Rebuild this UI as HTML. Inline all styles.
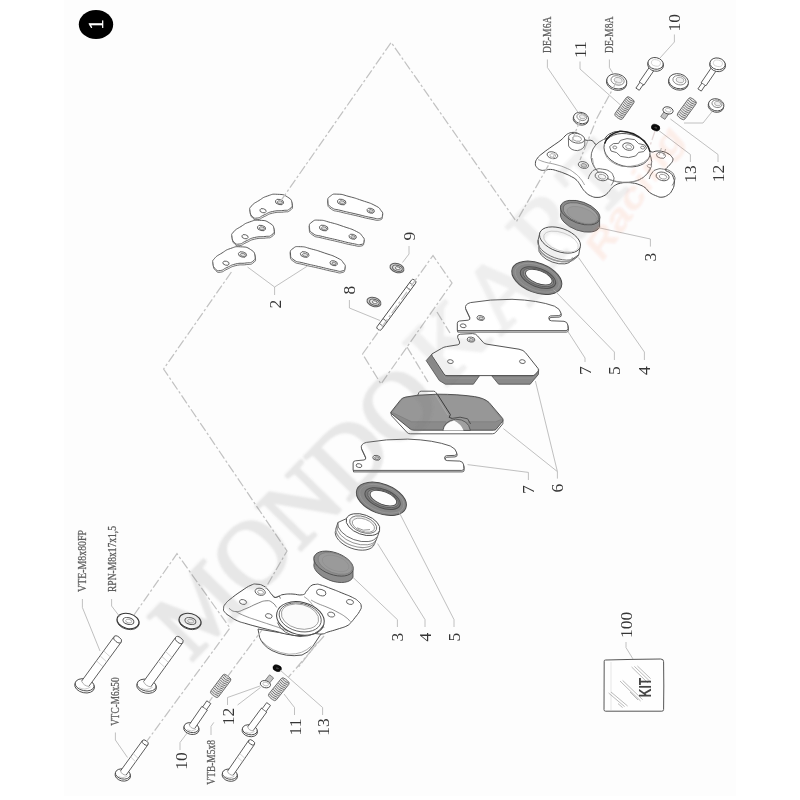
<!DOCTYPE html>
<html><head><meta charset="utf-8"><title>Brake caliper exploded view</title>
<style>html,body{margin:0;padding:0;background:#fff;}body{width:800px;height:800px;overflow:hidden;font-family:"Liberation Serif",serif;}svg{display:block;}</style></head><body>
<svg width="800" height="800" viewBox="0 0 800 800">
<defs><filter id="soft" x="-5%" y="-5%" width="110%" height="110%"><feGaussianBlur stdDeviation="0.5"/></filter><filter id="soft2" x="-5%" y="-5%" width="110%" height="110%"><feGaussianBlur stdDeviation="0.9"/></filter></defs>
<rect x="0" y="0" width="800" height="800" fill="#ffffff"/>
<rect x="64" y="0" width="672" height="796" fill="#fdfdfd"/>
<g id="drawing" filter="url(#soft)">
<ellipse cx="96" cy="24.5" rx="17.2" ry="14.6" fill="#000"/>
<text transform="translate(103.0,24.5) rotate(-90)" text-anchor="middle" font-family="Liberation Serif" font-size="20" font-weight="normal" fill="#fff" opacity="1" stroke="#fff" stroke-width="0.5">1</text>
<path d="M250.3,212.6 C250.0,209.4 249.1,210.8 251.8,207.6 C254.5,204.4 254.5,205.1 259.3,202.1 C264.1,199.1 262.2,199.5 267.8,197.6 C273.4,195.7 271.8,195.6 277.8,195.9 C283.8,196.2 283.4,195.8 287.8,198.6 C292.2,201.4 291.7,201.5 292.3,205.1 C292.9,208.7 292.5,208.5 289.8,210.6 C287.1,212.7 288.4,211.3 283.3,212.1 C278.2,212.8 278.5,211.8 272.8,213.1 C267.1,214.4 268.8,214.7 264.3,216.6 C259.8,218.5 261.2,219.2 257.8,219.6 C254.4,220.0 255.1,220.2 252.8,218.1 C250.6,216.0 250.6,215.8 250.3,212.6 Z" fill="#fff" stroke="#4a4a4a" stroke-width="0.8" stroke-linejoin="round" />
<path d="M250.0,211.0 C249.7,207.8 248.8,209.2 251.5,206.0 C254.2,202.8 254.2,203.5 259.0,200.5 C263.8,197.5 261.9,197.9 267.5,196.0 C273.1,194.1 271.5,194.0 277.5,194.3 C283.5,194.6 283.1,194.2 287.5,197.0 C291.9,199.8 291.4,199.9 292.0,203.5 C292.6,207.1 292.2,206.9 289.5,209.0 C286.8,211.1 288.1,209.8 283.0,210.5 C277.9,211.2 278.2,210.2 272.5,211.5 C266.8,212.8 268.5,213.1 264.0,215.0 C259.5,216.9 260.9,217.6 257.5,218.0 C254.1,218.4 254.8,218.6 252.5,216.5 C250.2,214.4 250.3,214.2 250.0,211.0 Z" fill="#fff" stroke="#4a4a4a" stroke-width="0.9" stroke-linejoin="round" />
<ellipse cx="279.5" cy="202.0" rx="4.2" ry="2.6" transform="rotate(15 279.5 202.0)" fill="#fff" stroke="#4a4a4a" stroke-width="0.8" />
<ellipse cx="279.9" cy="202.4" rx="2.6" ry="1.5" transform="rotate(15 279.9 202.4)" fill="#ddd" stroke="#4a4a4a" stroke-width="0.6" />
<ellipse cx="263.0" cy="210.7" rx="3.2" ry="2.0" transform="rotate(15 263.0 210.7)" fill="#fff" stroke="#4a4a4a" stroke-width="0.8" />
<path d="M327.8,203.1 C327.5,199.7 327.3,199.8 330.3,197.6 C333.3,195.4 332.2,195.6 337.8,195.8 C343.4,195.9 341.6,196.2 348.8,198.1 C356.0,200.0 354.0,199.4 361.8,202.1 C369.6,204.8 369.1,204.1 374.8,207.1 C380.5,210.1 378.6,209.2 380.8,212.1 C383.1,214.9 382.8,214.2 382.3,216.6 C381.9,219.0 382.8,219.3 379.3,220.1 C375.9,220.8 377.9,220.4 370.8,219.1 C363.8,217.8 364.8,217.7 355.8,215.6 C346.8,213.5 348.2,214.0 340.8,212.1 C333.4,210.2 335.2,211.8 331.3,209.1 C327.4,206.4 328.1,206.5 327.8,203.1 Z" fill="#fff" stroke="#4a4a4a" stroke-width="0.8" stroke-linejoin="round" />
<path d="M328.0,201.5 C327.7,198.1 327.5,198.2 330.5,196.0 C333.5,193.8 332.4,194.0 338.0,194.2 C343.6,194.3 341.8,194.6 349.0,196.5 C356.2,198.4 354.2,197.8 362.0,200.5 C369.8,203.2 369.3,202.5 375.0,205.5 C380.7,208.5 378.8,207.7 381.0,210.5 C383.2,213.3 382.9,212.6 382.5,215.0 C382.1,217.4 382.9,217.8 379.5,218.5 C376.1,219.2 378.1,218.8 371.0,217.5 C363.9,216.2 365.0,216.1 356.0,214.0 C347.0,211.9 348.4,212.4 341.0,210.5 C333.6,208.6 335.4,210.2 331.5,207.5 C327.6,204.8 328.3,204.9 328.0,201.5 Z" fill="#fff" stroke="#4a4a4a" stroke-width="0.9" stroke-linejoin="round" />
<ellipse cx="341.7" cy="202.0" rx="4.4" ry="2.7" transform="rotate(15 341.7 202.0)" fill="#fff" stroke="#4a4a4a" stroke-width="0.8" />
<ellipse cx="342.1" cy="202.4" rx="2.7" ry="1.5" transform="rotate(15 342.1 202.4)" fill="#ddd" stroke="#4a4a4a" stroke-width="0.6" />
<ellipse cx="370.7" cy="210.7" rx="3.8" ry="2.4" transform="rotate(15 370.7 210.7)" fill="#fff" stroke="#4a4a4a" stroke-width="0.8" />
<ellipse cx="371.0" cy="211.0" rx="2.2" ry="1.3" transform="rotate(15 371.0 211.0)" fill="#ddd" stroke="#4a4a4a" stroke-width="0.6" />
<path d="M232.3,238.6 C232.0,235.4 231.1,236.8 233.8,233.6 C236.5,230.4 236.5,231.1 241.3,228.1 C246.1,225.1 244.2,225.5 249.8,223.6 C255.4,221.7 253.8,221.6 259.8,221.9 C265.8,222.2 265.4,221.8 269.8,224.6 C274.2,227.4 273.7,227.5 274.3,231.1 C274.9,234.7 274.5,234.5 271.8,236.6 C269.1,238.7 270.4,237.3 265.3,238.1 C260.2,238.8 260.5,237.8 254.8,239.1 C249.1,240.4 250.8,240.7 246.3,242.6 C241.8,244.5 243.2,245.2 239.8,245.6 C236.4,246.0 237.1,246.2 234.8,244.1 C232.6,242.0 232.6,241.8 232.3,238.6 Z" fill="#fff" stroke="#4a4a4a" stroke-width="0.8" stroke-linejoin="round" />
<path d="M232.0,237.0 C231.7,233.8 230.8,235.2 233.5,232.0 C236.2,228.8 236.2,229.5 241.0,226.5 C245.8,223.5 243.9,223.9 249.5,222.0 C255.1,220.1 253.5,220.0 259.5,220.3 C265.5,220.6 265.1,220.2 269.5,223.0 C273.9,225.8 273.4,225.9 274.0,229.5 C274.6,233.1 274.2,232.9 271.5,235.0 C268.8,237.1 270.1,235.8 265.0,236.5 C259.9,237.2 260.2,236.2 254.5,237.5 C248.8,238.8 250.5,239.1 246.0,241.0 C241.5,242.9 242.9,243.6 239.5,244.0 C236.1,244.4 236.8,244.6 234.5,242.5 C232.2,240.4 232.3,240.2 232.0,237.0 Z" fill="#fff" stroke="#4a4a4a" stroke-width="0.9" stroke-linejoin="round" />
<ellipse cx="261.5" cy="228.0" rx="4.2" ry="2.6" transform="rotate(15 261.5 228.0)" fill="#fff" stroke="#4a4a4a" stroke-width="0.8" />
<ellipse cx="261.9" cy="228.4" rx="2.6" ry="1.5" transform="rotate(15 261.9 228.4)" fill="#ddd" stroke="#4a4a4a" stroke-width="0.6" />
<ellipse cx="245.0" cy="236.7" rx="3.2" ry="2.0" transform="rotate(15 245.0 236.7)" fill="#fff" stroke="#4a4a4a" stroke-width="0.8" />
<path d="M309.3,229.1 C309.0,225.7 308.8,225.8 311.8,223.6 C314.8,221.4 313.8,221.6 319.3,221.8 C324.9,221.9 323.1,222.2 330.3,224.1 C337.5,226.0 335.5,225.4 343.3,228.1 C351.1,230.8 350.6,230.1 356.3,233.1 C362.0,236.1 360.1,235.2 362.3,238.1 C364.6,240.9 364.2,240.2 363.8,242.6 C363.4,245.0 364.2,245.3 360.8,246.1 C357.4,246.8 359.4,246.4 352.3,245.1 C345.2,243.8 346.3,243.7 337.3,241.6 C328.3,239.5 329.7,240.0 322.3,238.1 C314.9,236.2 316.7,237.8 312.8,235.1 C308.9,232.4 309.6,232.5 309.3,229.1 Z" fill="#fff" stroke="#4a4a4a" stroke-width="0.8" stroke-linejoin="round" />
<path d="M309.5,227.5 C309.2,224.1 309.0,224.2 312.0,222.0 C315.0,219.8 313.9,220.0 319.5,220.2 C325.1,220.3 323.3,220.6 330.5,222.5 C337.7,224.4 335.7,223.8 343.5,226.5 C351.3,229.2 350.8,228.5 356.5,231.5 C362.2,234.5 360.2,233.7 362.5,236.5 C364.8,239.3 364.4,238.6 364.0,241.0 C363.6,243.4 364.4,243.8 361.0,244.5 C357.6,245.2 359.6,244.8 352.5,243.5 C345.4,242.2 346.5,242.1 337.5,240.0 C328.5,237.9 329.9,238.4 322.5,236.5 C315.1,234.6 316.9,236.2 313.0,233.5 C309.1,230.8 309.8,230.9 309.5,227.5 Z" fill="#fff" stroke="#4a4a4a" stroke-width="0.9" stroke-linejoin="round" />
<ellipse cx="323.7" cy="228.0" rx="4.4" ry="2.7" transform="rotate(15 323.7 228.0)" fill="#fff" stroke="#4a4a4a" stroke-width="0.8" />
<ellipse cx="324.1" cy="228.4" rx="2.7" ry="1.5" transform="rotate(15 324.1 228.4)" fill="#ddd" stroke="#4a4a4a" stroke-width="0.6" />
<ellipse cx="352.7" cy="236.7" rx="3.8" ry="2.4" transform="rotate(15 352.7 236.7)" fill="#fff" stroke="#4a4a4a" stroke-width="0.8" />
<ellipse cx="353.0" cy="237.0" rx="2.2" ry="1.3" transform="rotate(15 353.0 237.0)" fill="#ddd" stroke="#4a4a4a" stroke-width="0.6" />
<path d="M213.3,265.1 C213.0,262.0 212.1,263.3 214.8,260.1 C217.5,256.9 217.5,257.6 222.3,254.6 C227.1,251.6 225.2,252.0 230.8,250.1 C236.4,248.2 234.8,248.1 240.8,248.4 C246.8,248.7 246.5,248.3 250.8,251.1 C255.2,253.9 254.7,254.0 255.3,257.6 C255.9,261.2 255.5,261.0 252.8,263.1 C250.1,265.2 251.4,263.9 246.3,264.6 C241.2,265.4 241.5,264.2 235.8,265.6 C230.1,267.0 231.8,267.2 227.3,269.1 C222.8,271.1 224.2,271.7 220.8,272.1 C217.4,272.6 218.1,272.7 215.8,270.6 C213.6,268.5 213.6,268.2 213.3,265.1 Z" fill="#fff" stroke="#4a4a4a" stroke-width="0.8" stroke-linejoin="round" />
<path d="M213.0,263.5 C212.7,260.4 211.8,261.6 214.5,258.5 C217.2,255.3 217.2,256.0 222.0,253.0 C226.8,250.0 224.9,250.4 230.5,248.5 C236.1,246.6 234.5,246.5 240.5,246.8 C246.5,247.1 246.2,246.7 250.5,249.5 C254.8,252.3 254.4,252.4 255.0,256.0 C255.6,259.6 255.2,259.4 252.5,261.5 C249.8,263.6 251.1,262.2 246.0,263.0 C240.9,263.8 241.2,262.6 235.5,264.0 C229.8,265.4 231.5,265.6 227.0,267.5 C222.5,269.4 223.9,270.1 220.5,270.5 C217.1,270.9 217.8,271.1 215.5,269.0 C213.2,266.9 213.3,266.6 213.0,263.5 Z" fill="#fff" stroke="#4a4a4a" stroke-width="0.9" stroke-linejoin="round" />
<ellipse cx="242.5" cy="254.5" rx="4.2" ry="2.6" transform="rotate(15 242.5 254.5)" fill="#fff" stroke="#4a4a4a" stroke-width="0.8" />
<ellipse cx="242.9" cy="254.9" rx="2.6" ry="1.5" transform="rotate(15 242.9 254.9)" fill="#ddd" stroke="#4a4a4a" stroke-width="0.6" />
<ellipse cx="226.0" cy="263.2" rx="3.2" ry="2.0" transform="rotate(15 226.0 263.2)" fill="#fff" stroke="#4a4a4a" stroke-width="0.8" />
<path d="M290.3,255.6 C290.0,252.1 289.8,252.3 292.8,250.1 C295.8,247.9 294.8,248.1 300.3,248.3 C305.9,248.4 304.1,248.7 311.3,250.6 C318.5,252.5 316.5,251.9 324.3,254.6 C332.1,257.3 331.6,256.6 337.3,259.6 C343.0,262.6 341.1,261.8 343.3,264.6 C345.6,267.5 345.2,266.7 344.8,269.1 C344.4,271.5 345.2,271.9 341.8,272.6 C338.4,273.4 340.4,273.0 333.3,271.6 C326.2,270.2 327.3,270.2 318.3,268.1 C309.3,266.0 310.7,266.6 303.3,264.6 C295.9,262.7 297.7,264.3 293.8,261.6 C289.9,258.9 290.6,259.1 290.3,255.6 Z" fill="#fff" stroke="#4a4a4a" stroke-width="0.8" stroke-linejoin="round" />
<path d="M290.5,254.0 C290.2,250.6 290.0,250.7 293.0,248.5 C296.0,246.3 294.9,246.5 300.5,246.7 C306.1,246.8 304.3,247.1 311.5,249.0 C318.7,250.9 316.7,250.3 324.5,253.0 C332.3,255.7 331.8,255.0 337.5,258.0 C343.2,261.0 341.2,260.1 343.5,263.0 C345.8,265.9 345.4,265.1 345.0,267.5 C344.6,269.9 345.4,270.2 342.0,271.0 C338.6,271.8 340.6,271.4 333.5,270.0 C326.4,268.6 327.5,268.6 318.5,266.5 C309.5,264.4 310.9,264.9 303.5,263.0 C296.1,261.1 297.9,262.7 294.0,260.0 C290.1,257.3 290.8,257.4 290.5,254.0 Z" fill="#fff" stroke="#4a4a4a" stroke-width="0.9" stroke-linejoin="round" />
<ellipse cx="304.7" cy="254.5" rx="4.4" ry="2.7" transform="rotate(15 304.7 254.5)" fill="#fff" stroke="#4a4a4a" stroke-width="0.8" />
<ellipse cx="305.1" cy="254.9" rx="2.7" ry="1.5" transform="rotate(15 305.1 254.9)" fill="#ddd" stroke="#4a4a4a" stroke-width="0.6" />
<ellipse cx="333.7" cy="263.2" rx="3.8" ry="2.4" transform="rotate(15 333.7 263.2)" fill="#fff" stroke="#4a4a4a" stroke-width="0.8" />
<ellipse cx="334.0" cy="263.5" rx="2.2" ry="1.3" transform="rotate(15 334.0 263.5)" fill="#ddd" stroke="#4a4a4a" stroke-width="0.6" />
<ellipse cx="374.0" cy="302.0" rx="7.2" ry="4.4" transform="rotate(18 374.0 302.0)" fill="#d0d0d0" stroke="#5c5c5c" stroke-width="1.0" />
<ellipse cx="374.4" cy="302.2" rx="5.0" ry="2.9" transform="rotate(18 374.4 302.2)" fill="#e6e6e6" stroke="#666" stroke-width="1.0" />
<ellipse cx="374.8" cy="302.3" rx="2.6" ry="1.4" transform="rotate(18 374.8 302.3)" fill="#fafafa" stroke="#666" stroke-width="0.9" />
<ellipse cx="397.0" cy="268.0" rx="7.2" ry="4.4" transform="rotate(18 397.0 268.0)" fill="#d0d0d0" stroke="#5c5c5c" stroke-width="1.0" />
<ellipse cx="397.4" cy="268.2" rx="5.0" ry="2.9" transform="rotate(18 397.4 268.2)" fill="#e6e6e6" stroke="#666" stroke-width="1.0" />
<ellipse cx="397.8" cy="268.3" rx="2.6" ry="1.4" transform="rotate(18 397.8 268.3)" fill="#fafafa" stroke="#666" stroke-width="0.9" />
<rect x="0" y="-2.60" width="61.28" height="5.20" rx="1.8" ry="1.8" transform="translate(378.2,329.5) rotate(-53.56)" fill="#fff" stroke="#4a4a4a" stroke-width="0.9"/>
<path d="M379.4,323.5 L383.6,326.6" fill="none" stroke="#4a4a4a" stroke-width="0.8" />
<path d="M383.0,318.6 L387.2,321.7" fill="none" stroke="#4a4a4a" stroke-width="0.8" />
<path d="M406.3,287.0 L410.5,290.1" fill="none" stroke="#4a4a4a" stroke-width="0.8" />
<path d="M409.6,282.6 L413.8,285.7" fill="none" stroke="#4a4a4a" stroke-width="0.8" />
<g transform="translate(0,0)">
<path d="M457.3,330.6 L457.3,323.2 Q457.4,321.2 459.6,321 L468.2,320.2 Q470.6,319.8 469.8,317.4 L465.6,308.4 Q464.6,304.2 470.5,302.6 Q490,299.2 512,299.3 Q538,300.2 554.5,306.2 Q560.4,309 561,313.2 Q561.2,315.4 558.8,315.6 L550.6,315.9 Q548.6,316.3 548.8,318.4 Q549,320.7 551.4,320.8 L564,321.3 Q567.4,321.8 567.8,325 L568,328.6 Q568,330.6 566,330.6  Z" fill="#fff" stroke="#4a4a4a" stroke-width="0.9" stroke-linejoin="round" transform="translate(0.4,1.5)"/>
<path d="M457.3,330.6 L457.3,323.2 Q457.4,321.2 459.6,321 L468.2,320.2 Q470.6,319.8 469.8,317.4 L465.6,308.4 Q464.6,304.2 470.5,302.6 Q490,299.2 512,299.3 Q538,300.2 554.5,306.2 Q560.4,309 561,313.2 Q561.2,315.4 558.8,315.6 L550.6,315.9 Q548.6,316.3 548.8,318.4 Q549,320.7 551.4,320.8 L564,321.3 Q567.4,321.8 567.8,325 L568,328.6 Q568,330.6 566,330.6 Z" fill="#fff" stroke="#4a4a4a" stroke-width="0.9" stroke-linejoin="round" />
<ellipse cx="480.7" cy="318.0" rx="3.8" ry="2.4" transform="rotate(10 480.7 318.0)" fill="#fff" stroke="#4a4a4a" stroke-width="0.8" />
<ellipse cx="481.0" cy="318.3" rx="2.2" ry="1.3" transform="rotate(10 481.0 318.3)" fill="#ddd" stroke="#4a4a4a" stroke-width="0.6" />
<ellipse cx="463.2" cy="325.8" rx="2.9" ry="1.9" transform="rotate(10 463.2 325.8)" fill="#fff" stroke="#4a4a4a" stroke-width="0.8" />
</g>
<g transform="translate(-104.2,139.8)">
<path d="M457.3,330.6 L457.3,323.2 Q457.4,321.2 459.6,321 L468.2,320.2 Q470.6,319.8 469.8,317.4 L465.6,308.4 Q464.6,304.2 470.5,302.6 Q490,299.2 512,299.3 Q538,300.2 554.5,306.2 Q560.4,309 561,313.2 Q561.2,315.4 558.8,315.6 L550.6,315.9 Q548.6,316.3 548.8,318.4 Q549,320.7 551.4,320.8 L564,321.3 Q567.4,321.8 567.8,325 L568,328.6 Q568,330.6 566,330.6  Z" fill="#fff" stroke="#4a4a4a" stroke-width="0.9" stroke-linejoin="round" transform="translate(0.4,1.5)"/>
<path d="M457.3,330.6 L457.3,323.2 Q457.4,321.2 459.6,321 L468.2,320.2 Q470.6,319.8 469.8,317.4 L465.6,308.4 Q464.6,304.2 470.5,302.6 Q490,299.2 512,299.3 Q538,300.2 554.5,306.2 Q560.4,309 561,313.2 Q561.2,315.4 558.8,315.6 L550.6,315.9 Q548.6,316.3 548.8,318.4 Q549,320.7 551.4,320.8 L564,321.3 Q567.4,321.8 567.8,325 L568,328.6 Q568,330.6 566,330.6 Z" fill="#fff" stroke="#4a4a4a" stroke-width="0.9" stroke-linejoin="round" />
<ellipse cx="480.7" cy="318.0" rx="3.8" ry="2.4" transform="rotate(10 480.7 318.0)" fill="#fff" stroke="#4a4a4a" stroke-width="0.8" />
<ellipse cx="481.0" cy="318.3" rx="2.2" ry="1.3" transform="rotate(10 481.0 318.3)" fill="#ddd" stroke="#4a4a4a" stroke-width="0.6" />
<ellipse cx="463.2" cy="325.8" rx="2.9" ry="1.9" transform="rotate(10 463.2 325.8)" fill="#fff" stroke="#4a4a4a" stroke-width="0.8" />
</g>
<path d="M426.2,360.6 L431.8,354.2 L445.0,375.6 L479.6,375.6 L473.4,384.2 L445.4,384.2 L439.4,380.6 Z" fill="#8a8a8a" stroke="#505050" stroke-width="0.85" stroke-linejoin="round" />
<path d="M491.6,375.6 L534.0,375.6 L538.6,369.8 L538.4,374.4 L530.2,384.2 L498.6,384.2 Z" fill="#8a8a8a" stroke="#505050" stroke-width="0.85" stroke-linejoin="round" />
<path d="M432.6,357.6 L445.6,378.2 L477.4,378.2" fill="none" stroke="#9a9a9a" stroke-width="0.7" stroke-linejoin="round" />
<path d="M494,378.2 L532.6,378.2 L537.6,372" fill="none" stroke="#9a9a9a" stroke-width="0.7" stroke-linejoin="round" />
<path d="M431.8,354 L441.6,348.4 Q443.6,347 446.6,346.6 L457.8,344.8 Q460.2,344.2 459.6,342 L457.6,337.4 Q457,334.6 460.2,334.2 L472.6,333.6 Q476,333.6 477.6,336 L483.4,342.6 Q484.6,343.8 487,344.2 L519,349.2 Q523.6,350 525.6,352.8 L538,368.4 Q539.2,370.2 537.6,371.8 L534.8,374.8 Q534,375.6 532,375.6 L447,375.6 Q445,375.6 444,374 L432.4,356.4 Q431.4,354.8 431.8,354 Z" fill="#fff" stroke="#4a4a4a" stroke-width="0.95" stroke-linejoin="round" />
<ellipse cx="471.0" cy="339.6" rx="3.9" ry="2.5" transform="rotate(8 471.0 339.6)" fill="#fff" stroke="#4a4a4a" stroke-width="0.8" />
<ellipse cx="471.3" cy="339.9" rx="2.2" ry="1.3" transform="rotate(8 471.3 339.9)" fill="#ddd" stroke="#4a4a4a" stroke-width="0.6" />
<ellipse cx="450.4" cy="361.6" rx="2.9" ry="1.9" transform="rotate(8 450.4 361.6)" fill="#fff" stroke="#4a4a4a" stroke-width="0.8" />
<ellipse cx="522.4" cy="361.6" rx="2.9" ry="1.9" transform="rotate(8 522.4 361.6)" fill="#fff" stroke="#4a4a4a" stroke-width="0.8" />
<path d="M390.8,412.4 L391.6,415.8 L407.4,432.8 Q408.4,433.8 410.4,433.8 L492.4,433.8 Q494.4,433.8 495.6,432.4 L502.8,423.8 L503,420.4 Z" fill="#fff" stroke="#4a4a4a" stroke-width="0.9" stroke-linejoin="round" />
<path d="M417.4,396 L419,392.4 Q419.6,391.2 421.2,391.2 L433.6,391.2 Q435.2,391.2 436,392.6 L438.2,396 Z" fill="#fff" stroke="#4a4a4a" stroke-width="0.9" stroke-linejoin="round" />
<path d="M391,412 L401,399.4 Q402.6,397.6 406,397 L418,395.2 L437,394.2 Q458,394.2 474.5,396.6 Q484,398 489,402.4 L502.6,418.4 Q503.8,420 502.4,421.6 L496,429.4 Q495.2,430.2 493.4,430.2 L414,430.2 Q411.6,430.2 410,428.8 L392,414.2 Q390.6,413.2 391,412 Z" fill="#8b8b8b" stroke="#4c4c4c" stroke-width="0.95" stroke-linejoin="round" />
<path d="M392.4,412.2 L401.8,400.2 Q403.2,398.6 406.2,398 L418,396.2 L437,395.2 Q458,395.2 474.3,397.6 Q483.4,399 488.2,403.2 L501.4,419.4 L495.6,421.8 L411.6,421.8 Z" fill="#979797" stroke="none" stroke-width="0" stroke-linejoin="round" />
<path d="M392.4,412.6 L411.6,421.8 L446,421.8" fill="none" stroke="#7c7c7c" stroke-width="0.7" stroke-linejoin="round" />
<path d="M468,421.8 L495.6,421.8 L501.4,419.4" fill="none" stroke="#7c7c7c" stroke-width="0.7" stroke-linejoin="round" />
<path d="M437.6,394.6 L450.4,414.6 L449.2,417.4 L452,418.4" fill="none" stroke="#3a3a3a" stroke-width="1.0" stroke-linejoin="round" />
<path d="M435.4,395 L447.8,415" fill="none" stroke="#b0b0b0" stroke-width="0.7" stroke-linejoin="round" />
<path d="M443,430.4 Q444,421 455.6,419.2 Q468.2,419.4 470.4,430.4 Z" fill="#a0a0a0" stroke="#4a4a4a" stroke-width="0.8" stroke-linejoin="round" />
<path d="M443.4,430.6 Q445,422.6 454,420.6 Q461,424 463.6,430.6 Z" fill="#fdfdfd" stroke="none" stroke-width="0" stroke-linejoin="round" />
<path d="M452,418.4 Q460.4,415.8 467.6,418.8 L470.6,424" fill="none" stroke="#3d3d3d" stroke-width="0.8" stroke-linejoin="round" />
<ellipse cx="536.8" cy="277.8" rx="26.2" ry="14.8" transform="rotate(21 536.8 277.8)" fill="#878787" stroke="#4c4c4c" stroke-width="1.0" />
<ellipse cx="537.2" cy="277.8" rx="23.2" ry="12.6" transform="rotate(21 537.2 277.8)" fill="none" stroke="#9a9a9a" stroke-width="0.7" />
<ellipse cx="538.0" cy="277.6" rx="18.6" ry="9.2" transform="rotate(21 538.0 277.6)" fill="#7a7a7a" stroke="#505050" stroke-width="1.0" />
<ellipse cx="538.4" cy="277.4" rx="16.2" ry="7.8" transform="rotate(21 538.4 277.4)" fill="#929292" stroke="#5a5a5a" stroke-width="0.8" />
<ellipse cx="538.8" cy="277.1" rx="14.0" ry="6.4" transform="rotate(21 538.8 277.1)" fill="#fdfdfd" stroke="#4c4c4c" stroke-width="0.9" />
<ellipse cx="381.4" cy="498.8" rx="26.2" ry="14.8" transform="rotate(21 381.4 498.8)" fill="#878787" stroke="#4c4c4c" stroke-width="1.0" />
<ellipse cx="381.8" cy="498.8" rx="23.2" ry="12.6" transform="rotate(21 381.8 498.8)" fill="none" stroke="#9a9a9a" stroke-width="0.7" />
<ellipse cx="382.6" cy="498.6" rx="18.6" ry="9.2" transform="rotate(21 382.6 498.6)" fill="#7a7a7a" stroke="#505050" stroke-width="1.0" />
<ellipse cx="383.0" cy="498.4" rx="16.2" ry="7.8" transform="rotate(21 383.0 498.4)" fill="#929292" stroke="#5a5a5a" stroke-width="0.8" />
<ellipse cx="383.4" cy="498.1" rx="14.0" ry="6.4" transform="rotate(21 383.4 498.1)" fill="#fdfdfd" stroke="#4c4c4c" stroke-width="0.9" />
<path d="M539.9,232.7 L538.1,240.0 L539.0,247.6 A17.4,9.0 20 0 0 571.8,259.6 L578.7,254.8 L580.1,247.3 Z" fill="#fff" stroke="#4a4a4a" stroke-width="0.9" stroke-linejoin="round" />
<path d="M538.1,240.0 A21.6,11.0 20 0 0 578.7,254.8" fill="none" stroke="#555" stroke-width="0.85" stroke-linejoin="round" />
<path d="M538.4,243.6 A20.0,10.4 20 0 0 576.0,257.2" fill="none" stroke="#7a7a7a" stroke-width="0.8" stroke-linejoin="round" />
<path d="M538.9,245.0 A18.0,9.0 20 0 0 572.7,257.4" fill="none" stroke="#9a9a9a" stroke-width="1.3" stroke-linejoin="round" />
<ellipse cx="560.0" cy="240.0" rx="21.4" ry="11.6" transform="rotate(20 560.0 240.0)" fill="#fff" stroke="#4a4a4a" stroke-width="0.9" />
<ellipse cx="561.0" cy="241.6" rx="18.2" ry="9.0" transform="rotate(20 561.0 241.6)" fill="none" stroke="#c8c8c8" stroke-width="0.7" />
<path d="M346.5,518.6 L337.9,522.5 L335.6,530.2 A20.6,11.6 20 0 0 374.4,544.2 L377.5,536.7 L379.5,530.6 Z" fill="#fff" stroke="#4a4a4a" stroke-width="0.9" stroke-linejoin="round" />
<path d="M337.9,522.5 A20.8,11.4 20 0 0 376.9,536.7" fill="none" stroke="#555" stroke-width="0.85" stroke-linejoin="round" />
<path d="M337.1,525.7 A20.8,11.4 20 0 0 376.1,539.9" fill="none" stroke="#777" stroke-width="0.8" stroke-linejoin="round" />
<path d="M336.2,527.6 A20.6,11.6 20 0 0 375.0,541.6" fill="none" stroke="#9a9a9a" stroke-width="1.2" stroke-linejoin="round" />
<ellipse cx="363.0" cy="524.6" rx="17.6" ry="9.8" transform="rotate(20 363.0 524.6)" fill="#fff" stroke="#4a4a4a" stroke-width="0.9" />
<ellipse cx="363.2" cy="524.6" rx="14.2" ry="7.8" transform="rotate(20 363.2 524.6)" fill="#f4f4f4" stroke="#666" stroke-width="0.8" />
<ellipse cx="363.4" cy="525.2" rx="11.6" ry="6.2" transform="rotate(20 363.4 525.2)" fill="#fff" stroke="#8a8a8a" stroke-width="0.75" />
<path d="M357.0,527.8 Q363.0,531.6 370.0,529.6" fill="none" stroke="#8a8a8a" stroke-width="0.9" stroke-linejoin="round" />
<path d="M560.8,205.6 L560.8,212.8 A20.6,10.8 20 0 0 599.6,226.8 L599.6,219.6 Z" fill="#8c8c8c" stroke="#505050" stroke-width="0.9" stroke-linejoin="round" />
<ellipse cx="580.2" cy="212.6" rx="20.6" ry="10.8" transform="rotate(20 580.2 212.6)" fill="#8a8a8a" stroke="#505050" stroke-width="0.9" />
<ellipse cx="580.8" cy="213.4" rx="18.6" ry="9.3" transform="rotate(20 580.8 213.4)" fill="#a0a0a0" stroke="#666" stroke-width="0.8" />
<ellipse cx="581.8" cy="215.0" rx="15.6" ry="7.2" transform="rotate(20 581.8 215.0)" fill="#9a9a9a" stroke="#8c8c8c" stroke-width="0.6" />
<path d="M314.2,556.6 L314.2,563.0 A20.6,11.0 20 0 0 353.0,577.0 L353.0,570.6 Z" fill="#8c8c8c" stroke="#505050" stroke-width="0.9" stroke-linejoin="round" />
<ellipse cx="333.6" cy="563.6" rx="20.6" ry="11.0" transform="rotate(20 333.6 563.6)" fill="#8e8e8e" stroke="#505050" stroke-width="0.9" />
<ellipse cx="335.2" cy="563.4" rx="18.0" ry="9.6" transform="rotate(20 335.2 563.4)" fill="#9a9a9a" stroke="#7e7e7e" stroke-width="0.7" />
<ellipse cx="335.6" cy="563.4" rx="14.0" ry="7.2" transform="rotate(20 335.6 563.4)" fill="none" stroke="#8e8e8e" stroke-width="0.6" />
<path d="M535.4,163.4 C535.5,161.0 535.7,160.6 537.6,158.0 C539.5,155.4 539.4,155.9 543.0,153.0 C546.6,150.1 547.5,149.7 552.0,146.4 C556.5,143.2 557.8,142.6 561.0,140.0 C564.2,137.4 563.1,137.7 565.0,136.0 C566.9,134.3 566.6,134.3 568.6,133.4 C570.6,132.5 570.8,132.5 573.0,132.4 C575.2,132.3 575.5,132.2 577.6,133.2 C579.8,134.2 579.7,134.7 581.6,136.4 C583.5,138.1 582.8,138.9 585.4,140.0 C588.0,141.1 589.2,139.4 592.0,140.6 C594.8,141.8 593.6,144.0 596.4,144.6 C599.1,145.2 600.6,144.9 603.0,143.0 C605.4,141.1 603.9,139.5 606.0,137.0 C608.1,134.5 608.4,134.4 611.6,133.0 C614.9,131.6 615.1,131.6 619.0,131.4 C622.9,131.2 623.1,131.4 627.0,132.4 C630.9,133.4 631.1,133.6 634.6,135.6 C638.1,137.6 638.1,137.9 641.0,140.4 C643.9,142.9 643.6,142.6 646.0,145.4 C648.4,148.2 647.9,150.2 650.6,151.6 C653.4,153.0 653.9,151.0 657.0,151.0 C660.1,151.0 660.2,150.9 663.0,151.6 C665.8,152.2 665.9,152.3 668.0,153.6 C670.1,154.8 670.4,154.9 671.6,156.6 C672.8,158.3 673.3,158.3 672.8,160.4 C672.3,162.5 671.4,162.6 669.6,165.0 C667.8,167.4 665.4,168.0 665.6,170.0 C665.8,172.0 668.5,171.1 670.4,173.0 C672.3,174.9 672.4,174.8 673.4,177.6 C674.4,180.3 674.6,180.8 674.2,184.0 C673.9,187.2 673.5,187.8 672.0,190.4 C670.5,193.1 670.9,192.9 668.4,194.6 C665.9,196.3 665.2,196.9 662.0,197.2 C658.8,197.4 658.8,196.8 655.6,195.6 C652.5,194.3 652.0,194.2 649.4,192.2 C646.8,190.2 647.6,189.5 645.0,187.6 C642.4,185.7 642.1,185.8 639.0,184.6 C635.9,183.4 635.9,183.5 632.6,183.0 C629.4,182.5 629.0,182.6 626.0,182.6 C623.0,182.6 623.2,182.6 620.6,183.2 C618.0,183.8 617.9,183.7 615.6,185.0 C613.3,186.3 613.3,186.5 611.4,188.4 C609.5,190.3 610.0,190.7 608.0,192.6 C606.0,194.5 606.1,194.8 603.4,196.0 C600.6,197.2 600.2,197.4 597.0,197.4 C593.8,197.4 593.4,197.0 590.6,195.8 C587.9,194.6 588.0,194.4 586.0,192.6 C584.0,190.8 584.0,190.7 582.4,188.4 C580.8,186.2 581.0,185.8 579.4,183.6 C577.8,181.4 578.0,181.3 576.0,179.6 C574.0,177.8 574.1,178.1 571.4,176.6 C568.6,175.1 568.5,175.0 565.0,173.6 C561.5,172.2 561.2,172.1 557.6,171.0 C554.0,169.9 553.8,169.6 550.6,169.4 C547.5,169.2 547.5,170.0 545.0,170.2 C542.5,170.3 542.6,170.7 540.6,170.0 C538.6,169.3 538.3,169.2 537.0,167.6 C535.7,165.9 535.2,165.8 535.4,163.4 Z" fill="#fff" stroke="#4a4a4a" stroke-width="1.0" stroke-linejoin="round" />
<path d="M538.0,159.6 C540.1,160.3 541.2,161.1 546.0,162.4 C550.8,163.7 550.7,163.1 556.0,164.6 C561.3,166.1 561.2,165.9 566.0,168.0 C570.8,170.1 570.2,169.8 574.0,172.6 C577.8,175.4 577.6,175.3 580.4,178.6 C583.2,181.9 583.5,183.3 584.6,185.0" fill="none" stroke="#8a8a8a" stroke-width="0.8" stroke-linejoin="round" />
<ellipse cx="621.4" cy="159.6" rx="30.6" ry="22.6" transform="rotate(12 621.4 159.6)" fill="#fff" stroke="#666" stroke-width="0.9" />
<path d="M592.4,158 Q593,171.4 606,178.6 Q622,184.6 638,180.6 Q650,175.4 651.8,161" fill="none" stroke="#9a9a9a" stroke-width="0.8" stroke-linejoin="round" />
<ellipse cx="627.0" cy="150.2" rx="23.4" ry="16.2" transform="rotate(14 627.0 150.2)" fill="#fff" stroke="#555" stroke-width="0.9" />
<path d="M604.6,143.6 Q607.4,134 620,131.2 Q634,131 644.6,141.4 Q649,146.6 650,151.6" fill="none" stroke="#222" stroke-width="1.5" stroke-linejoin="round" />
<path d="M604.6,152.6 Q607.6,162.6 622,166.4 Q640,167.6 648.6,158.4" fill="none" stroke="#8a8a8a" stroke-width="0.8" stroke-linejoin="round" />
<path d="M609.6,146.6 L613.4,143.6 L618.6,143.4 L620.4,140.4 L627,138.6 L634.6,139.6 L638.6,143.6 L644.6,145 L646.6,148 L643.6,151.6 L638.6,152.4 L635.6,156 L628.6,157.6 L620.6,156.4 L616.6,152.6 L611,151 Z" fill="#fff" stroke="#555" stroke-width="0.85" stroke-linejoin="round" />
<ellipse cx="628.2" cy="146.6" rx="5.6" ry="3.6" transform="rotate(14 628.2 146.6)" fill="#fff" stroke="#555" stroke-width="0.85" />
<ellipse cx="628.6" cy="146.8" rx="3.0" ry="1.9" transform="rotate(14 628.6 146.8)" fill="#fff" stroke="#888" stroke-width="0.7" />
<ellipse cx="614.8" cy="147.4" rx="2.0" ry="1.4" transform="rotate(14 614.8 147.4)" fill="#fff" stroke="#666" stroke-width="0.7" />
<ellipse cx="642.6" cy="147.6" rx="2.0" ry="1.4" transform="rotate(14 642.6 147.6)" fill="#fff" stroke="#666" stroke-width="0.7" />
<path d="M568.4,138 L568.6,146 Q571,150.6 577.6,150.6 Q583.6,149.4 584.8,145 L584.8,139" fill="#fff" stroke="#555" stroke-width="0.85" stroke-linejoin="round" />
<ellipse cx="576.6" cy="138.2" rx="8.2" ry="4.8" transform="rotate(12 576.6 138.2)" fill="#fff" stroke="#555" stroke-width="0.85" />
<ellipse cx="577.0" cy="138.6" rx="4.6" ry="2.6" transform="rotate(12 577.0 138.6)" fill="#fff" stroke="#888" stroke-width="0.75" />
<ellipse cx="552.4" cy="155.2" rx="5.4" ry="3.3" transform="rotate(14 552.4 155.2)" fill="#fff" stroke="#555" stroke-width="0.85" />
<ellipse cx="552.8" cy="155.6" rx="3.0" ry="1.8" transform="rotate(14 552.8 155.6)" fill="#fff" stroke="#999" stroke-width="0.7" />
<ellipse cx="583.4" cy="165.0" rx="5.2" ry="3.3" transform="rotate(14 583.4 165.0)" fill="#fff" stroke="#555" stroke-width="0.85" />
<ellipse cx="583.8" cy="165.4" rx="2.9" ry="1.8" transform="rotate(14 583.8 165.4)" fill="#d2d2d2" stroke="#777" stroke-width="0.7" />
<path d="M588.2,179.0 C589.0,177.2 588.7,175.9 591.0,173.0 C593.3,170.1 592.5,170.5 596.0,169.4 C599.5,168.3 598.5,168.6 602.6,169.2 C606.7,169.8 606.4,169.4 609.6,171.4 C612.8,173.4 612.0,173.1 613.2,175.8 C614.4,178.5 614.2,177.5 613.6,180.4 C613.0,183.3 611.9,183.9 611.2,185.4" fill="none" stroke="#555" stroke-width="0.85" stroke-linejoin="round" />
<ellipse cx="601.6" cy="176.4" rx="6.6" ry="4.2" transform="rotate(14 601.6 176.4)" fill="#fff" stroke="#555" stroke-width="0.85" />
<ellipse cx="602.0" cy="176.7" rx="3.8" ry="2.3" transform="rotate(14 602.0 176.7)" fill="#fff" stroke="#888" stroke-width="0.75" />
<path d="M649.2,179.0 C650.0,177.2 649.7,175.9 652.0,173.0 C654.3,170.1 653.5,170.5 657.0,169.4 C660.5,168.3 659.5,168.6 663.6,169.2 C667.7,169.8 667.4,169.4 670.6,171.4 C673.8,173.4 673.0,173.1 674.2,175.8 C675.4,178.5 675.2,177.5 674.6,180.4 C674.0,183.3 672.9,183.9 672.2,185.4" fill="none" stroke="#555" stroke-width="0.85" stroke-linejoin="round" />
<ellipse cx="662.6" cy="176.4" rx="6.6" ry="4.2" transform="rotate(14 662.6 176.4)" fill="#fff" stroke="#555" stroke-width="0.85" />
<ellipse cx="663.0" cy="176.7" rx="3.8" ry="2.3" transform="rotate(14 663.0 176.7)" fill="#fff" stroke="#888" stroke-width="0.75" />
<ellipse cx="661.0" cy="155.4" rx="4.6" ry="2.8" transform="rotate(14 661.0 155.4)" fill="#fff" stroke="#666" stroke-width="0.8" />
<path d="M659,155 L661.4,148 M663.4,155.6 L665.6,149" fill="none" stroke="#999" stroke-width="0.7" stroke-linejoin="round" />
<ellipse cx="649.4" cy="166.0" rx="2.2" ry="1.5" transform="rotate(14 649.4 166.0)" fill="#fff" stroke="#888" stroke-width="0.7" />
<path d="M258,629 L259.6,637.4 Q262.6,645.6 272,650.6 Q286,657.6 302,655 Q308.6,652.6 312.6,646.6 L319.6,636 L323.6,631 L300,636 Z" fill="#fff" stroke="#4a4a4a" stroke-width="0.95" stroke-linejoin="round" />
<path d="M261.6,640.6 Q271,652 289,654.2 Q303,654.4 311.4,646" fill="none" stroke="#9a9a9a" stroke-width="0.8" stroke-linejoin="round" />
<path d="M223.6,608.6 C223.8,606.3 223.2,606.6 225.6,603.6 C228.0,600.6 228.1,600.9 232.5,597.4 C236.9,593.9 237.1,593.9 242.0,590.6 C246.9,587.3 247.0,586.9 251.0,585.2 C255.0,583.5 253.6,584.0 257.0,584.2 C260.4,584.4 260.6,584.4 263.6,586.0 C266.6,587.6 266.3,588.0 268.4,590.2 C270.5,592.4 269.8,592.5 271.6,594.4 C273.4,596.3 272.9,597.0 275.0,597.4 C277.1,597.8 277.3,596.7 279.4,596.0 C281.5,595.3 279.6,595.1 283.0,594.6 C286.4,594.1 286.8,593.9 292.0,594.0 C297.2,594.1 298.5,595.6 302.4,594.8 C306.3,594.0 304.4,593.3 306.6,591.0 C308.8,588.7 308.2,588.0 310.6,586.2 C313.0,584.4 312.8,584.7 315.6,584.4 C318.4,584.1 316.6,583.8 321.0,585.0 C325.4,586.2 326.1,586.8 332.0,589.0 C337.9,591.2 337.6,591.2 343.0,593.4 C348.4,595.6 348.3,595.3 352.4,597.4 C356.5,599.5 356.1,599.1 358.4,601.4 C360.7,603.7 360.9,603.3 361.2,606.0 C361.5,608.7 361.1,608.5 359.4,611.6 C357.7,614.7 357.2,614.7 355.0,617.6 C352.8,620.5 353.1,620.2 351.0,622.4 C348.9,624.6 350.5,624.0 347.0,625.8 C343.5,627.6 343.1,627.3 338.0,629.0 C332.9,630.7 332.3,630.7 328.0,632.0 C323.7,633.3 326.3,633.6 322.0,634.0 C317.7,634.4 317.9,633.2 312.0,633.6 C306.1,634.0 306.4,635.4 300.0,635.6 C293.6,635.8 294.4,635.5 288.0,634.4 C281.6,633.3 281.9,632.8 276.0,631.4 C270.1,630.0 271.3,630.3 266.0,629.0 C260.7,627.7 261.3,627.8 256.0,626.4 C250.7,625.0 251.0,625.1 246.0,623.6 C241.0,622.1 241.7,622.7 237.4,620.8 C233.1,618.9 233.3,618.6 230.0,616.4 C226.7,614.2 226.7,614.5 225.0,612.4 C223.3,610.3 223.4,610.9 223.6,608.6 Z" fill="#fff" stroke="#4a4a4a" stroke-width="1.0" stroke-linejoin="round" />
<path d="M229.0,608.4 C230.9,609.3 231.5,611.5 236.0,611.6 C240.5,611.7 240.4,610.7 246.0,608.6 C251.6,606.5 251.7,605.7 257.0,603.6 C262.3,601.5 261.9,601.1 266.0,600.8 C270.1,600.5 269.6,600.8 272.4,602.6 C275.2,604.4 275.5,606.1 276.6,607.4" fill="none" stroke="#666" stroke-width="0.8" stroke-linejoin="round" />
<path d="M236.4,612.0 C239.0,613.2 240.2,614.1 246.0,616.4 C251.8,618.7 251.6,618.4 258.0,620.6 C264.4,622.8 264.1,622.6 270.0,624.6 C275.9,626.6 275.2,626.2 280.0,628.0 C284.8,629.8 285.9,630.5 288.0,631.4" fill="none" stroke="#777" stroke-width="0.8" stroke-linejoin="round" />
<path d="M311.0,600.0 C312.9,601.0 313.5,601.6 318.0,603.6 C322.5,605.6 322.7,605.3 328.0,607.6 C333.3,609.9 333.2,609.8 338.0,612.4 C342.8,615.0 342.7,614.9 346.0,617.4 C349.3,619.9 349.2,620.5 350.4,621.6" fill="none" stroke="#777" stroke-width="0.8" stroke-linejoin="round" />
<path d="M304.0,596.6 C305.3,597.7 306.4,597.9 309.0,600.6 C311.6,603.3 311.3,603.3 313.6,606.6 C315.9,609.9 315.5,609.4 317.6,613.0 C319.7,616.6 319.7,616.0 321.4,620.0 C323.1,624.0 323.3,625.9 324.0,628.0" fill="none" stroke="#888" stroke-width="0.75" stroke-linejoin="round" />
<ellipse cx="300.4" cy="618.4" rx="24.2" ry="16.2" transform="rotate(14 300.4 618.4)" fill="#fff" stroke="#444" stroke-width="1.0" />
<ellipse cx="300.2" cy="617.4" rx="21.4" ry="14.0" transform="rotate(14 300.2 617.4)" fill="#fff" stroke="#555" stroke-width="0.85" />
<ellipse cx="300.0" cy="616.6" rx="19.0" ry="12.2" transform="rotate(14 300.0 616.6)" fill="#fbfbfb" stroke="#8a8a8a" stroke-width="0.75" />
<path d="M277.4,622.6 Q282,634.6 300,636.6 Q317,636.4 323.6,625" fill="none" stroke="#555" stroke-width="0.85" stroke-linejoin="round" />
<ellipse cx="260.2" cy="591.8" rx="5.2" ry="3.5" transform="rotate(14 260.2 591.8)" fill="#fff" stroke="#555" stroke-width="0.85" />
<ellipse cx="260.6" cy="592.2" rx="3.0" ry="1.9" transform="rotate(14 260.6 592.2)" fill="#fff" stroke="#888" stroke-width="0.7" />
<ellipse cx="243.0" cy="602.0" rx="3.6" ry="2.4" transform="rotate(14 243.0 602.0)" fill="#fff" stroke="#555" stroke-width="0.8" />
<ellipse cx="268.8" cy="616.0" rx="3.4" ry="2.3" transform="rotate(14 268.8 616.0)" fill="#fff" stroke="#555" stroke-width="0.8" />
<ellipse cx="321.2" cy="592.6" rx="4.8" ry="3.1" transform="rotate(14 321.2 592.6)" fill="#fff" stroke="#555" stroke-width="0.85" />
<ellipse cx="350.0" cy="602.0" rx="3.6" ry="2.4" transform="rotate(14 350.0 602.0)" fill="#fff" stroke="#555" stroke-width="0.8" />
<ellipse cx="331.2" cy="614.6" rx="3.6" ry="2.4" transform="rotate(14 331.2 614.6)" fill="#fff" stroke="#555" stroke-width="0.8" />
<path d="M271.6,594.4 L275,597.6 L279.4,596 L280.4,598.6" fill="none" stroke="#555" stroke-width="0.8" stroke-linejoin="round" />
<ellipse cx="580.7" cy="119.4" rx="7.6" ry="5.6" transform="rotate(14 580.7 119.4)" fill="#fff" stroke="#4a4a4a" stroke-width="0.9" />
<ellipse cx="581.0" cy="118.0" rx="7.6" ry="5.6" transform="rotate(14 581.0 118.0)" fill="#fff" stroke="#4a4a4a" stroke-width="0.9" />
<ellipse cx="581.8" cy="117.0" rx="5.0" ry="3.5" transform="rotate(14 581.8 117.0)" fill="#fff" stroke="#777" stroke-width="0.8" />
<ellipse cx="582.4" cy="116.8" rx="3.0" ry="2.0" transform="rotate(14 582.4 116.8)" fill="#efefef" stroke="#999" stroke-width="0.7" />
<ellipse cx="616.5" cy="82.8" rx="10.2" ry="7.4" transform="rotate(14 616.5 82.8)" fill="#fff" stroke="#4a4a4a" stroke-width="0.9" />
<ellipse cx="616.8" cy="81.4" rx="10.2" ry="7.4" transform="rotate(14 616.8 81.4)" fill="#fff" stroke="#4a4a4a" stroke-width="0.9" />
<ellipse cx="617.6" cy="80.4" rx="6.7" ry="4.6" transform="rotate(14 617.6 80.4)" fill="#fff" stroke="#777" stroke-width="0.8" />
<ellipse cx="618.2" cy="80.2" rx="4.1" ry="2.7" transform="rotate(14 618.2 80.2)" fill="#efefef" stroke="#999" stroke-width="0.7" />
<ellipse cx="678.3" cy="82.6" rx="10.0" ry="7.4" transform="rotate(14 678.3 82.6)" fill="#fff" stroke="#4a4a4a" stroke-width="0.9" />
<ellipse cx="678.6" cy="81.2" rx="10.0" ry="7.4" transform="rotate(14 678.6 81.2)" fill="#fff" stroke="#4a4a4a" stroke-width="0.9" />
<ellipse cx="679.4" cy="80.2" rx="6.6" ry="4.6" transform="rotate(14 679.4 80.2)" fill="#fff" stroke="#777" stroke-width="0.8" />
<ellipse cx="680.0" cy="80.0" rx="4.0" ry="2.7" transform="rotate(14 680.0 80.0)" fill="#efefef" stroke="#999" stroke-width="0.7" />
<ellipse cx="715.9" cy="106.2" rx="7.8" ry="6.0" transform="rotate(14 715.9 106.2)" fill="#fff" stroke="#4a4a4a" stroke-width="0.9" />
<ellipse cx="716.2" cy="104.8" rx="7.8" ry="6.0" transform="rotate(14 716.2 104.8)" fill="#fff" stroke="#4a4a4a" stroke-width="0.9" />
<ellipse cx="717.0" cy="103.8" rx="5.1" ry="3.7" transform="rotate(14 717.0 103.8)" fill="#fff" stroke="#777" stroke-width="0.8" />
<ellipse cx="717.6" cy="103.6" rx="3.1" ry="2.2" transform="rotate(14 717.6 103.6)" fill="#efefef" stroke="#999" stroke-width="0.7" />
<path d="M652.7,62.4 L639.3,81.9 L639.9,82.3 L635.9,88.1 L639.3,90.3 L643.2,84.6 L643.9,85.1 L657.3,65.6" fill="#fff" stroke="#4a4a4a" stroke-width="0.9" stroke-linejoin="round" />
<path d="M639.3,81.9 L643.9,85.1" fill="none" stroke="#4a4a4a" stroke-width="0.7" />
<ellipse cx="655.6" cy="64.8" rx="8.0" ry="6.4" transform="rotate(12 655.6 64.8)" fill="#fff" stroke="#4a4a4a" stroke-width="0.9" />
<ellipse cx="655.6" cy="63.4" rx="7.7" ry="5.8" transform="rotate(12 655.6 63.4)" fill="#fff" stroke="#4a4a4a" stroke-width="0.9" />
<ellipse cx="655.9" cy="62.9" rx="4.6" ry="3.2" transform="rotate(12 655.9 62.9)" fill="none" stroke="#c6c6c6" stroke-width="0.7" />
<path d="M714.7,62.8 L701.2,82.6 L701.9,83.1 L697.9,88.9 L701.3,91.1 L705.2,85.3 L705.9,85.8 L719.4,66.0" fill="#fff" stroke="#4a4a4a" stroke-width="0.9" stroke-linejoin="round" />
<path d="M701.2,82.6 L705.9,85.8" fill="none" stroke="#4a4a4a" stroke-width="0.7" />
<ellipse cx="717.6" cy="65.2" rx="8.0" ry="6.4" transform="rotate(12 717.6 65.2)" fill="#fff" stroke="#4a4a4a" stroke-width="0.9" />
<ellipse cx="717.6" cy="63.8" rx="7.7" ry="5.8" transform="rotate(12 717.6 63.8)" fill="#fff" stroke="#4a4a4a" stroke-width="0.9" />
<ellipse cx="717.9" cy="63.3" rx="4.6" ry="3.2" transform="rotate(12 717.9 63.3)" fill="none" stroke="#c6c6c6" stroke-width="0.7" />
<g transform="translate(631.4,98.4) rotate(125.43)">
<rect x="0" y="-4.60" width="23.81" height="9.20" rx="2.2" ry="3.4" fill="#e6e6e6" stroke="#6a6a6a" stroke-width="0.9"/>
<path d="M1.08,-4.00 Q2.98,0 1.48,4.00" fill="none" stroke="#707070" stroke-width="0.9"/>
<path d="M3.07,-4.00 Q4.97,0 3.47,4.00" fill="none" stroke="#707070" stroke-width="0.9"/>
<path d="M5.05,-4.00 Q6.95,0 5.45,4.00" fill="none" stroke="#707070" stroke-width="0.9"/>
<path d="M7.04,-4.00 Q8.94,0 7.44,4.00" fill="none" stroke="#707070" stroke-width="0.9"/>
<path d="M9.02,-4.00 Q10.92,0 9.42,4.00" fill="none" stroke="#707070" stroke-width="0.9"/>
<path d="M11.00,-4.00 Q12.90,0 11.40,4.00" fill="none" stroke="#707070" stroke-width="0.9"/>
<path d="M12.99,-4.00 Q14.89,0 13.39,4.00" fill="none" stroke="#707070" stroke-width="0.9"/>
<path d="M14.97,-4.00 Q16.87,0 15.37,4.00" fill="none" stroke="#707070" stroke-width="0.9"/>
<path d="M16.96,-4.00 Q18.86,0 17.36,4.00" fill="none" stroke="#707070" stroke-width="0.9"/>
<path d="M18.94,-4.00 Q20.84,0 19.34,4.00" fill="none" stroke="#707070" stroke-width="0.9"/>
<path d="M20.92,-4.00 Q22.82,0 21.32,4.00" fill="none" stroke="#707070" stroke-width="0.9"/>
</g>
<g transform="translate(693.6,99.4) rotate(126.17)">
<rect x="0" y="-4.60" width="23.04" height="9.20" rx="2.2" ry="3.4" fill="#e6e6e6" stroke="#6a6a6a" stroke-width="0.9"/>
<path d="M1.19,-4.00 Q3.09,0 1.59,4.00" fill="none" stroke="#707070" stroke-width="0.9"/>
<path d="M3.29,-4.00 Q5.19,0 3.69,4.00" fill="none" stroke="#707070" stroke-width="0.9"/>
<path d="M5.38,-4.00 Q7.28,0 5.78,4.00" fill="none" stroke="#707070" stroke-width="0.9"/>
<path d="M7.48,-4.00 Q9.38,0 7.88,4.00" fill="none" stroke="#707070" stroke-width="0.9"/>
<path d="M9.57,-4.00 Q11.47,0 9.97,4.00" fill="none" stroke="#707070" stroke-width="0.9"/>
<path d="M11.67,-4.00 Q13.57,0 12.07,4.00" fill="none" stroke="#707070" stroke-width="0.9"/>
<path d="M13.76,-4.00 Q15.66,0 14.16,4.00" fill="none" stroke="#707070" stroke-width="0.9"/>
<path d="M15.86,-4.00 Q17.76,0 16.26,4.00" fill="none" stroke="#707070" stroke-width="0.9"/>
<path d="M17.95,-4.00 Q19.85,0 18.35,4.00" fill="none" stroke="#707070" stroke-width="0.9"/>
<path d="M20.05,-4.00 Q21.95,0 20.45,4.00" fill="none" stroke="#707070" stroke-width="0.9"/>
</g>
<path d="M665.9,109.0 L660.7,116.6 L664.9,119.4 L670.1,111.8 Z" fill="#c4c4c4" stroke="#6a6a6a" stroke-width="0.8" stroke-linejoin="round" />
<ellipse cx="668.0" cy="110.4" rx="5.2" ry="3.5" transform="rotate(15 668.0 110.4)" fill="#fff" stroke="#4a4a4a" stroke-width="0.9" />
<ellipse cx="668.3" cy="110.2" rx="2.9" ry="1.8" transform="rotate(15 668.3 110.2)" fill="none" stroke="#aaa" stroke-width="0.7" />
<ellipse cx="655.6" cy="127.6" rx="4.3" ry="3.1" transform="rotate(18 655.6 127.6)" fill="#0a0a0a" stroke="#000" stroke-width="0.6" />
<ellipse cx="655.8" cy="127.7" rx="1.6" ry="0.9" transform="rotate(18 655.8 127.7)" fill="#3a3a3a" stroke="none" stroke-width="0" />
<ellipse cx="128.0" cy="621.9" rx="11.2" ry="7.4" transform="rotate(14 128.0 621.9)" fill="#fff" stroke="#444" stroke-width="0.9" />
<ellipse cx="128.0" cy="621.0" rx="11.2" ry="7.4" transform="rotate(14 128.0 621.0)" fill="#fff" stroke="#333" stroke-width="1.1" />
<ellipse cx="128.4" cy="621.0" rx="5.6" ry="3.4" transform="rotate(14 128.4 621.0)" fill="#fff" stroke="#555" stroke-width="1.0" />
<ellipse cx="128.7" cy="621.1" rx="3.1" ry="1.8" transform="rotate(14 128.7 621.1)" fill="#fff" stroke="#999" stroke-width="0.7" />
<ellipse cx="190.0" cy="621.9" rx="11.2" ry="7.4" transform="rotate(14 190.0 621.9)" fill="#fff" stroke="#444" stroke-width="0.9" />
<ellipse cx="190.0" cy="621.0" rx="11.2" ry="7.4" transform="rotate(14 190.0 621.0)" fill="#fff" stroke="#333" stroke-width="1.1" />
<ellipse cx="190.4" cy="621.0" rx="5.6" ry="3.4" transform="rotate(14 190.4 621.0)" fill="#fff" stroke="#555" stroke-width="1.0" />
<ellipse cx="190.7" cy="621.1" rx="3.1" ry="1.8" transform="rotate(14 190.7 621.1)" fill="#fff" stroke="#999" stroke-width="0.7" />
<ellipse cx="84.6" cy="686.2" rx="10.0" ry="6.6" transform="rotate(12 84.6 686.2)" fill="#fff" stroke="#4a4a4a" stroke-width="0.9" />
<ellipse cx="84.6" cy="684.8" rx="9.6" ry="5.9" transform="rotate(12 84.6 684.8)" fill="#fff" stroke="#4a4a4a" stroke-width="0.9" />
<path d="M79.1,687.6 Q84.6,690.9 90.6,686.9" fill="none" stroke="#b0b0b0" stroke-width="0.7" stroke-linejoin="round" />
<path d="M88.8,686.4 L121.2,642.1 L114.0,636.7 L81.6,681.1" fill="#fff" stroke="#4a4a4a" stroke-width="0.9" stroke-linejoin="round" />
<ellipse cx="117.6" cy="639.4" rx="2.7" ry="4.5" transform="rotate(-53.86724826377609 117.6 639.4)" fill="#fff" stroke="#4a4a4a" stroke-width="0.85" />
<path d="M88.8,686.4 Q83.7,685.9 81.6,681.1" fill="#fff" stroke="#8a8a8a" stroke-width="0.7" stroke-linejoin="round" />
<path d="M103.1,666.9 L96.4,660.8" fill="none" stroke="#c2c2c2" stroke-width="0.7" />
<path d="M106.7,661.9 L100.0,655.8" fill="none" stroke="#c2c2c2" stroke-width="0.7" />
<path d="M110.3,657.0 L103.7,650.9" fill="none" stroke="#c2c2c2" stroke-width="0.7" />
<ellipse cx="146.6" cy="686.6" rx="10.0" ry="6.6" transform="rotate(12 146.6 686.6)" fill="#fff" stroke="#4a4a4a" stroke-width="0.9" />
<ellipse cx="146.6" cy="685.2" rx="9.6" ry="5.9" transform="rotate(12 146.6 685.2)" fill="#fff" stroke="#4a4a4a" stroke-width="0.9" />
<path d="M141.1,688.0 Q146.6,691.3 152.6,687.3" fill="none" stroke="#b0b0b0" stroke-width="0.7" stroke-linejoin="round" />
<path d="M150.8,686.8 L182.8,642.6 L175.6,637.4 L143.5,681.6" fill="#fff" stroke="#4a4a4a" stroke-width="0.9" stroke-linejoin="round" />
<ellipse cx="179.2" cy="640.0" rx="2.7" ry="4.5" transform="rotate(-54.07875786598897 179.2 640.0)" fill="#fff" stroke="#4a4a4a" stroke-width="0.85" />
<path d="M150.8,686.8 Q145.7,686.3 143.5,681.6" fill="#fff" stroke="#8a8a8a" stroke-width="0.7" stroke-linejoin="round" />
<path d="M164.9,667.4 L158.2,661.3" fill="none" stroke="#c2c2c2" stroke-width="0.7" />
<path d="M168.5,662.4 L161.8,656.4" fill="none" stroke="#c2c2c2" stroke-width="0.7" />
<path d="M172.1,657.5 L165.4,651.4" fill="none" stroke="#c2c2c2" stroke-width="0.7" />
<ellipse cx="122.8" cy="775.4" rx="7.8" ry="5.6" transform="rotate(12 122.8 775.4)" fill="#fff" stroke="#4a4a4a" stroke-width="0.9" />
<ellipse cx="122.8" cy="774.0" rx="7.5" ry="5.0" transform="rotate(12 122.8 774.0)" fill="#fff" stroke="#4a4a4a" stroke-width="0.9" />
<path d="M118.5,776.3 Q122.8,779.1 127.5,775.8" fill="none" stroke="#b0b0b0" stroke-width="0.7" stroke-linejoin="round" />
<path d="M126.2,775.0 L148.0,744.6 L142.4,740.6 L120.5,770.9" fill="#fff" stroke="#4a4a4a" stroke-width="0.9" stroke-linejoin="round" />
<ellipse cx="145.2" cy="742.6" rx="2.1" ry="3.5" transform="rotate(-54.32359177813796 145.2 742.6)" fill="#fff" stroke="#4a4a4a" stroke-width="0.85" />
<path d="M126.2,775.0 Q121.9,775.1 120.5,770.9" fill="#fff" stroke="#8a8a8a" stroke-width="0.7" stroke-linejoin="round" />
<path d="M135.7,761.8 L130.6,756.9" fill="none" stroke="#c2c2c2" stroke-width="0.7" />
<path d="M138.2,758.4 L133.1,753.5" fill="none" stroke="#c2c2c2" stroke-width="0.7" />
<ellipse cx="229.8" cy="775.6" rx="7.8" ry="5.6" transform="rotate(12 229.8 775.6)" fill="#fff" stroke="#4a4a4a" stroke-width="0.9" />
<ellipse cx="229.8" cy="774.2" rx="7.5" ry="5.0" transform="rotate(12 229.8 774.2)" fill="#fff" stroke="#4a4a4a" stroke-width="0.9" />
<path d="M225.5,776.5 Q229.8,779.3 234.5,776.0" fill="none" stroke="#b0b0b0" stroke-width="0.7" stroke-linejoin="round" />
<path d="M233.2,775.2 L254.5,744.4 L248.7,740.4 L227.5,771.2" fill="#fff" stroke="#4a4a4a" stroke-width="0.9" stroke-linejoin="round" />
<ellipse cx="251.6" cy="742.4" rx="2.1" ry="3.5" transform="rotate(-55.39923811238726 251.6 742.4)" fill="#fff" stroke="#4a4a4a" stroke-width="0.85" />
<path d="M233.2,775.2 Q228.9,775.3 227.5,771.2" fill="#fff" stroke="#8a8a8a" stroke-width="0.7" stroke-linejoin="round" />
<path d="M242.5,761.8 L237.3,757.0" fill="none" stroke="#c2c2c2" stroke-width="0.7" />
<path d="M244.9,758.3 L239.7,753.5" fill="none" stroke="#c2c2c2" stroke-width="0.7" />
<ellipse cx="191.4" cy="729.0" rx="7.8" ry="5.4" transform="rotate(12 191.4 729.0)" fill="#fff" stroke="#4a4a4a" stroke-width="0.9" />
<ellipse cx="191.4" cy="727.6" rx="7.5" ry="4.9" transform="rotate(12 191.4 727.6)" fill="#fff" stroke="#4a4a4a" stroke-width="0.9" />
<path d="M187.1,729.8 Q191.4,732.5 196.1,729.3" fill="none" stroke="#b0b0b0" stroke-width="0.7" stroke-linejoin="round" />
<path d="M194.7,728.5 L207.3,710.1 L206.6,709.6 L210.8,703.6 L206.8,700.8 L202.7,706.9 L201.9,706.4 L189.3,724.7" fill="#fff" stroke="#4a4a4a" stroke-width="0.9" stroke-linejoin="round" />
<path d="M207.3,710.1 L201.9,706.4" fill="none" stroke="#4a4a4a" stroke-width="0.7" />
<path d="M194.7,728.5 Q190.5,728.7 189.3,724.7" fill="#fff" stroke="#8a8a8a" stroke-width="0.7" stroke-linejoin="round" />
<ellipse cx="249.8" cy="731.2" rx="7.8" ry="5.4" transform="rotate(12 249.8 731.2)" fill="#fff" stroke="#4a4a4a" stroke-width="0.9" />
<ellipse cx="249.8" cy="729.8" rx="7.5" ry="4.9" transform="rotate(12 249.8 729.8)" fill="#fff" stroke="#4a4a4a" stroke-width="0.9" />
<path d="M245.5,732.0 Q249.8,734.7 254.5,731.5" fill="none" stroke="#b0b0b0" stroke-width="0.7" stroke-linejoin="round" />
<path d="M253.1,730.7 L266.7,712.1 L266.0,711.6 L270.5,705.4 L266.7,702.6 L262.2,708.7 L261.4,708.2 L247.7,726.8" fill="#fff" stroke="#4a4a4a" stroke-width="0.9" stroke-linejoin="round" />
<path d="M266.7,712.1 L261.4,708.2" fill="none" stroke="#4a4a4a" stroke-width="0.7" />
<path d="M253.1,730.7 Q248.9,730.9 247.7,726.8" fill="#fff" stroke="#8a8a8a" stroke-width="0.7" stroke-linejoin="round" />
<g transform="translate(228.0,676.2) rotate(126.96)">
<rect x="0" y="-4.80" width="24.28" height="9.60" rx="2.2" ry="3.4" fill="#e6e6e6" stroke="#6a6a6a" stroke-width="0.9"/>
<path d="M1.12,-4.20 Q3.02,0 1.52,4.20" fill="none" stroke="#707070" stroke-width="0.9"/>
<path d="M3.15,-4.20 Q5.05,0 3.55,4.20" fill="none" stroke="#707070" stroke-width="0.9"/>
<path d="M5.17,-4.20 Q7.07,0 5.57,4.20" fill="none" stroke="#707070" stroke-width="0.9"/>
<path d="M7.19,-4.20 Q9.09,0 7.59,4.20" fill="none" stroke="#707070" stroke-width="0.9"/>
<path d="M9.22,-4.20 Q11.12,0 9.62,4.20" fill="none" stroke="#707070" stroke-width="0.9"/>
<path d="M11.24,-4.20 Q13.14,0 11.64,4.20" fill="none" stroke="#707070" stroke-width="0.9"/>
<path d="M13.26,-4.20 Q15.16,0 13.66,4.20" fill="none" stroke="#707070" stroke-width="0.9"/>
<path d="M15.29,-4.20 Q17.19,0 15.69,4.20" fill="none" stroke="#707070" stroke-width="0.9"/>
<path d="M17.31,-4.20 Q19.21,0 17.71,4.20" fill="none" stroke="#707070" stroke-width="0.9"/>
<path d="M19.33,-4.20 Q21.23,0 19.73,4.20" fill="none" stroke="#707070" stroke-width="0.9"/>
<path d="M21.36,-4.20 Q23.26,0 21.76,4.20" fill="none" stroke="#707070" stroke-width="0.9"/>
</g>
<g transform="translate(286.4,679.8) rotate(128.96)">
<rect x="0" y="-4.80" width="24.18" height="9.60" rx="2.2" ry="3.4" fill="#e6e6e6" stroke="#6a6a6a" stroke-width="0.9"/>
<path d="M1.11,-4.20 Q3.01,0 1.51,4.20" fill="none" stroke="#707070" stroke-width="0.9"/>
<path d="M3.13,-4.20 Q5.03,0 3.53,4.20" fill="none" stroke="#707070" stroke-width="0.9"/>
<path d="M5.14,-4.20 Q7.04,0 5.54,4.20" fill="none" stroke="#707070" stroke-width="0.9"/>
<path d="M7.16,-4.20 Q9.06,0 7.56,4.20" fill="none" stroke="#707070" stroke-width="0.9"/>
<path d="M9.17,-4.20 Q11.07,0 9.57,4.20" fill="none" stroke="#707070" stroke-width="0.9"/>
<path d="M11.19,-4.20 Q13.09,0 11.59,4.20" fill="none" stroke="#707070" stroke-width="0.9"/>
<path d="M13.20,-4.20 Q15.10,0 13.60,4.20" fill="none" stroke="#707070" stroke-width="0.9"/>
<path d="M15.22,-4.20 Q17.12,0 15.62,4.20" fill="none" stroke="#707070" stroke-width="0.9"/>
<path d="M17.23,-4.20 Q19.13,0 17.63,4.20" fill="none" stroke="#707070" stroke-width="0.9"/>
<path d="M19.25,-4.20 Q21.15,0 19.65,4.20" fill="none" stroke="#707070" stroke-width="0.9"/>
<path d="M21.26,-4.20 Q23.16,0 21.66,4.20" fill="none" stroke="#707070" stroke-width="0.9"/>
</g>
<path d="M267.4,685.8 L273.6,678.0 L269.6,674.8 L263.4,682.6 Z" fill="#c4c4c4" stroke="#6a6a6a" stroke-width="0.8" stroke-linejoin="round" />
<ellipse cx="265.4" cy="684.2" rx="5.2" ry="3.5" transform="rotate(15 265.4 684.2)" fill="#fff" stroke="#4a4a4a" stroke-width="0.9" />
<ellipse cx="265.7" cy="684.0" rx="2.9" ry="1.8" transform="rotate(15 265.7 684.0)" fill="none" stroke="#aaa" stroke-width="0.7" />
<ellipse cx="277.2" cy="668.2" rx="4.3" ry="3.1" transform="rotate(18 277.2 668.2)" fill="#0a0a0a" stroke="#000" stroke-width="0.6" />
<ellipse cx="277.4" cy="668.3" rx="1.6" ry="0.9" transform="rotate(18 277.4 668.3)" fill="#3a3a3a" stroke="none" stroke-width="0" />
<path d="M280.4,201.4 L391.2,42.4 L516.4,221.6 L556.0,152.0" fill="none" stroke="#c2c2c2" stroke-width="1.25" stroke-dasharray="9.5 2.4 2.4 2.4"/>
<path d="M231.4,272.0 L163.6,369.0 L287.0,551.0 L265.0,589.0" fill="none" stroke="#c2c2c2" stroke-width="1.25" stroke-dasharray="9.5 2.4 2.4 2.4"/>
<path d="M362.5,354.0 L433.0,255.5 L452.0,283.0 L381.0,384.0 L362.5,354.0" fill="none" stroke="#c2c2c2" stroke-width="1.25" stroke-dasharray="9.5 2.4 2.4 2.4"/>
<path d="M407.0,347.0 L428.0,382.0" fill="none" stroke="#c2c2c2" stroke-width="1.25" stroke-dasharray="9.5 2.4 2.4 2.4"/>
<path d="M437.0,312.0 L450.0,333.0" fill="none" stroke="#c2c2c2" stroke-width="1.25" stroke-dasharray="9.5 2.4 2.4 2.4"/>
<path d="M134.0,615.0 L177.0,553.7 L230.0,628.0 L147.0,741.0" fill="none" stroke="#c2c2c2" stroke-width="1.25" stroke-dasharray="9.5 2.4 2.4 2.4"/>
<path d="M262.0,630.0 L222.0,684.0 L209.0,702.0" fill="none" stroke="#c2c2c2" stroke-width="1.25" stroke-dasharray="9.5 2.4 2.4 2.4"/>
<path d="M324.0,636.0 L288.6,677.0" fill="none" stroke="#c2c2c2" stroke-width="1.25" stroke-dasharray="9.5 2.4 2.4 2.4"/>
<path d="M317.6,642.4 L297.0,669.0" fill="none" stroke="#c2c2c2" stroke-width="1.25" stroke-dasharray="9.5 2.4 2.4 2.4"/>
<path d="M581.0,118.0 L572.0,141.0" fill="none" stroke="#c2c2c2" stroke-width="1.25" stroke-dasharray="9.5 2.4 2.4 2.4"/>
<path d="M617.0,81.0 L597.0,118.0 L580.0,160.0" fill="none" stroke="#c2c2c2" stroke-width="1.25" stroke-dasharray="9.5 2.4 2.4 2.4"/>
<path d="M655.0,131.0 L650.0,146.0" fill="none" stroke="#e2d6d6" stroke-width="1.25" stroke-dasharray="9.5 2.4 2.4 2.4"/>
<path d="M247.5,267.0 L274.6,287.0 L307.5,266.0" fill="none" stroke="#b0b0b0" stroke-width="0.8" />
<path d="M274.6,287.0 L274.6,295.0" fill="none" stroke="#b0b0b0" stroke-width="0.8" />
<text transform="translate(280.6,304.0) rotate(-90)" text-anchor="middle" font-family="Liberation Serif" font-size="17.5" font-weight="normal" fill="#363636" opacity="1">2</text>
<path d="M349.4,300.0 L349.4,308.0 L380.0,320.5" fill="none" stroke="#b0b0b0" stroke-width="0.8" />
<text transform="translate(355.4,290.0) rotate(-90)" text-anchor="middle" font-family="Liberation Serif" font-size="17.5" font-weight="normal" fill="#363636" opacity="1">8</text>
<path d="M409.0,246.0 L409.0,254.0 L402.5,262.5" fill="none" stroke="#b0b0b0" stroke-width="0.8" />
<text transform="translate(415.2,236.0) rotate(-90)" text-anchor="middle" font-family="Liberation Serif" font-size="17.5" font-weight="normal" fill="#363636" opacity="1">9</text>
<path d="M567.6,331.0 L585.0,358.0 L585.0,362.0" fill="none" stroke="#b0b0b0" stroke-width="0.8" />
<text transform="translate(591.2,370.5) rotate(-90)" text-anchor="middle" font-family="Liberation Serif" font-size="17.5" font-weight="normal" fill="#363636" opacity="1">7</text>
<path d="M467.5,464.6 L528.4,472.4 L528.4,480.0" fill="none" stroke="#b0b0b0" stroke-width="0.8" />
<text transform="translate(534.4,489.6) rotate(-90)" text-anchor="middle" font-family="Liberation Serif" font-size="17.5" font-weight="normal" fill="#363636" opacity="1">7</text>
<path d="M535.4,381.0 L557.4,471.6 L503.4,428.6" fill="none" stroke="#b0b0b0" stroke-width="0.8" />
<path d="M557.4,471.6 L557.4,478.6" fill="none" stroke="#b0b0b0" stroke-width="0.8" />
<text transform="translate(563.4,488.0) rotate(-90)" text-anchor="middle" font-family="Liberation Serif" font-size="17.5" font-weight="normal" fill="#363636" opacity="1">6</text>
<path d="M598.0,227.6 L650.4,239.0 L650.4,246.6" fill="none" stroke="#b0b0b0" stroke-width="0.8" />
<text transform="translate(656.4,257.0) rotate(-90)" text-anchor="middle" font-family="Liberation Serif" font-size="17.5" font-weight="normal" fill="#363636" opacity="1">3</text>
<path d="M578.6,257.6 L644.4,352.0 L644.4,360.0" fill="none" stroke="#b0b0b0" stroke-width="0.8" />
<text transform="translate(650.4,370.5) rotate(-90)" text-anchor="middle" font-family="Liberation Serif" font-size="17.5" font-weight="normal" fill="#363636" opacity="1">4</text>
<path d="M553.6,289.6 L614.4,352.0 L614.4,360.0" fill="none" stroke="#b0b0b0" stroke-width="0.8" />
<text transform="translate(620.4,370.5) rotate(-90)" text-anchor="middle" font-family="Liberation Serif" font-size="17.5" font-weight="normal" fill="#363636" opacity="1">5</text>
<path d="M353.0,577.4 L397.4,619.6 L397.4,627.0" fill="none" stroke="#b0b0b0" stroke-width="0.8" />
<text transform="translate(403.4,637.0) rotate(-90)" text-anchor="middle" font-family="Liberation Serif" font-size="17.5" font-weight="normal" fill="#363636" opacity="1">3</text>
<path d="M377.6,543.6 L425.0,619.6 L425.0,627.0" fill="none" stroke="#b0b0b0" stroke-width="0.8" />
<text transform="translate(431.2,637.0) rotate(-90)" text-anchor="middle" font-family="Liberation Serif" font-size="17.5" font-weight="normal" fill="#363636" opacity="1">4</text>
<path d="M399.0,512.0 L454.0,619.6 L454.0,627.0" fill="none" stroke="#b0b0b0" stroke-width="0.8" />
<text transform="translate(460.2,637.0) rotate(-90)" text-anchor="middle" font-family="Liberation Serif" font-size="17.5" font-weight="normal" fill="#363636" opacity="1">5</text>
<path d="M547.4,59.5 L547.4,67.5 L578.5,113.0" fill="none" stroke="#b0b0b0" stroke-width="0.8" />
<text transform="translate(551.4,34.8) rotate(-90)" text-anchor="middle" font-family="Liberation Serif" font-size="11.5" font-weight="normal" fill="#5c5c5c" opacity="1" stroke="#5c5c5c" stroke-width="0.25" textLength="36.5" lengthAdjust="spacingAndGlyphs">DE-M6A</text>
<path d="M580.0,61.5 L580.0,69.0 L620.5,105.0" fill="none" stroke="#b0b0b0" stroke-width="0.8" />
<text transform="translate(586.0,49.6) rotate(-90)" text-anchor="middle" font-family="Liberation Serif" font-size="17.5" font-weight="normal" fill="#363636" opacity="1">11</text>
<path d="M609.4,59.5 L609.4,67.5 L614.5,76.0" fill="none" stroke="#b0b0b0" stroke-width="0.8" />
<text transform="translate(613.4,34.8) rotate(-90)" text-anchor="middle" font-family="Liberation Serif" font-size="11.5" font-weight="normal" fill="#5c5c5c" opacity="1" stroke="#5c5c5c" stroke-width="0.25" textLength="36.5" lengthAdjust="spacingAndGlyphs">DE-M8A</text>
<path d="M674.4,34.5 L674.4,42.0 L660.0,58.0" fill="none" stroke="#b0b0b0" stroke-width="0.8" />
<text transform="translate(680.4,22.8) rotate(-90)" text-anchor="middle" font-family="Liberation Serif" font-size="17.5" font-weight="normal" fill="#363636" opacity="1">10</text>
<path d="M658.6,130.4 L690.4,154.5 L690.4,162.0" fill="none" stroke="#b0b0b0" stroke-width="0.8" />
<text transform="translate(696.4,174.0) rotate(-90)" text-anchor="middle" font-family="Liberation Serif" font-size="17.5" font-weight="normal" fill="#363636" opacity="1">13</text>
<path d="M670.4,119.0 L718.0,154.5 L718.0,162.0" fill="none" stroke="#b0b0b0" stroke-width="0.8" />
<path d="M684.0,123.0 L703.0,123.0 L712.0,111.7" fill="none" stroke="#b0b0b0" stroke-width="0.8" />
<text transform="translate(724.0,173.6) rotate(-90)" text-anchor="middle" font-family="Liberation Serif" font-size="17.5" font-weight="normal" fill="#363636" opacity="1">12</text>
<path d="M82.4,599.0 L82.4,607.5 L100.0,651.0" fill="none" stroke="#b0b0b0" stroke-width="0.8" />
<text transform="translate(86.4,561.0) rotate(-90)" text-anchor="middle" font-family="Liberation Serif" font-size="11.5" font-weight="normal" fill="#5c5c5c" opacity="1" stroke="#5c5c5c" stroke-width="0.25" textLength="62" lengthAdjust="spacingAndGlyphs">VTE-M8x80FP</text>
<path d="M111.6,599.0 L111.6,606.0 L120.0,617.0" fill="none" stroke="#b0b0b0" stroke-width="0.8" />
<text transform="translate(116.4,559.0) rotate(-90)" text-anchor="middle" font-family="Liberation Serif" font-size="11.5" font-weight="normal" fill="#5c5c5c" opacity="1" stroke="#5c5c5c" stroke-width="0.25" textLength="66" lengthAdjust="spacingAndGlyphs">RPN-M8x17x1,5</text>
<path d="M115.4,732.5 L115.4,740.0 L127.5,757.5" fill="none" stroke="#b0b0b0" stroke-width="0.8" />
<text transform="translate(119.4,701.6) rotate(-90)" text-anchor="middle" font-family="Liberation Serif" font-size="11.5" font-weight="normal" fill="#5c5c5c" opacity="1" stroke="#5c5c5c" stroke-width="0.25" textLength="48.5" lengthAdjust="spacingAndGlyphs">VTC-M6x50</text>
<path d="M180.0,750.0 L180.0,742.5 L187.5,732.5" fill="none" stroke="#b0b0b0" stroke-width="0.8" />
<text transform="translate(186.8,761.0) rotate(-90)" text-anchor="middle" font-family="Liberation Serif" font-size="17.5" font-weight="normal" fill="#363636" opacity="1">10</text>
<path d="M211.0,735.0 L211.0,726.4 L213.8,722.4" fill="none" stroke="#b0b0b0" stroke-width="0.8" />
<text transform="translate(215.4,762.4) rotate(-90)" text-anchor="middle" font-family="Liberation Serif" font-size="11.5" font-weight="normal" fill="#5c5c5c" opacity="1" stroke="#5c5c5c" stroke-width="0.25" textLength="44.5" lengthAdjust="spacingAndGlyphs">VTB-M5x8</text>
<path d="M260.0,686.0 L227.5,697.5 L227.5,705.0" fill="none" stroke="#b0b0b0" stroke-width="0.8" />
<path d="M260.6,687.4 L237.6,705.0" fill="none" stroke="#b0b0b0" stroke-width="0.8" />
<text transform="translate(234.4,716.4) rotate(-90)" text-anchor="middle" font-family="Liberation Serif" font-size="17.5" font-weight="normal" fill="#363636" opacity="1">12</text>
<path d="M284.0,694.0 L294.5,707.5 L294.5,715.0" fill="none" stroke="#b0b0b0" stroke-width="0.8" />
<text transform="translate(300.6,727.0) rotate(-90)" text-anchor="middle" font-family="Liberation Serif" font-size="17.5" font-weight="normal" fill="#363636" opacity="1">11</text>
<path d="M280.0,670.0 L322.6,707.5 L322.6,715.0" fill="none" stroke="#b0b0b0" stroke-width="0.8" />
<text transform="translate(328.8,727.0) rotate(-90)" text-anchor="middle" font-family="Liberation Serif" font-size="17.5" font-weight="normal" fill="#363636" opacity="1">13</text>
<path d="M604.2,661.2 Q604,660 605.6,660 L632,659.4 L660.6,659 Q663.6,659 663.6,661.6 L663.8,686 L663.6,709.6 Q663.6,711.2 661.8,711.2 L605.6,711.2 Q604,711.2 604,709.6 Z" fill="#fefefe" stroke="#555" stroke-width="1.0" stroke-linejoin="round" />
<path d="M611.0,662.0 L611.0,710.0" fill="none" stroke="#dcdcdc" stroke-width="0.7" />
<path d="M631.6,667.0 L648.0,683.0" fill="none" stroke="#a8a8a8" stroke-width="0.8" />
<path d="M634.4,666.4 L651.0,682.4" fill="none" stroke="#a8a8a8" stroke-width="0.8" />
<path d="M637.4,666.0 L650.6,678.6" fill="none" stroke="#a8a8a8" stroke-width="0.8" />
<path d="M620.0,681.0 L640.6,701.0" fill="none" stroke="#a8a8a8" stroke-width="0.8" />
<path d="M622.6,680.4 L642.6,699.6" fill="none" stroke="#a8a8a8" stroke-width="0.8" />
<path d="M630.0,692.0 L638.0,700.0" fill="none" stroke="#a8a8a8" stroke-width="0.8" />
<path d="M608.6,693.0 L624.6,706.6" fill="none" stroke="#a8a8a8" stroke-width="0.8" />
<path d="M611.0,692.0 L627.6,706.0" fill="none" stroke="#a8a8a8" stroke-width="0.8" />
<path d="M618.0,703.6 L622.6,707.6" fill="none" stroke="#a8a8a8" stroke-width="0.8" />
<text transform="translate(651.0,687.6) rotate(-90)" text-anchor="middle" font-family="Liberation Sans" font-size="16.5" font-weight="bold" fill="#444" opacity="1" textLength="19.5" lengthAdjust="spacingAndGlyphs">KIT</text>
<path d="M626.0,642.0 L626.0,647.6 L633.0,659.0" fill="none" stroke="#b0b0b0" stroke-width="0.8" />
<text transform="translate(632.2,624.8) rotate(-90)" text-anchor="middle" font-family="Liberation Serif" font-size="17.5" font-weight="normal" fill="#363636" opacity="1">100</text>
</g>
<g id="watermark" filter="url(#soft2)">
<text transform="translate(190.8,662.7) rotate(-45.6)" font-family="Liberation Serif" font-size="96" opacity="0.165" fill="#7a7a7a" stroke="#7a7a7a" stroke-width="3" stroke-linejoin="round">MONDO</text>
<text transform="translate(447,342) rotate(-45.6)" x="0" y="31" text-anchor="middle" font-family="Liberation Serif" font-size="94" opacity="0.115" fill="#7a7a7a" stroke="#7a7a7a" stroke-width="3" stroke-linejoin="round">K</text>
<text transform="translate(502,290) rotate(-45.6)" x="0" y="31" text-anchor="middle" font-family="Liberation Serif" font-size="94" opacity="0.115" fill="#7a7a7a" stroke="#7a7a7a" stroke-width="3" stroke-linejoin="round">A</text>
<text transform="translate(548,228) rotate(-45.6)" x="0" y="31" text-anchor="middle" font-family="Liberation Serif" font-size="94" opacity="0.115" fill="#7a7a7a" stroke="#7a7a7a" stroke-width="3" stroke-linejoin="round">R</text>
<text transform="translate(596,178) rotate(-45.6)" x="0" y="31" text-anchor="middle" font-family="Liberation Serif" font-size="94" opacity="0.115" fill="#7a7a7a" stroke="#7a7a7a" stroke-width="3" stroke-linejoin="round">T</text>
<text transform="translate(603,262) rotate(-56.5)" font-family="Liberation Sans" font-style="italic" font-weight="bold" font-size="36" fill="#e8402a" opacity="0.08" textLength="150" lengthAdjust="spacingAndGlyphs">Racing</text>
</g>
</svg></body></html>
